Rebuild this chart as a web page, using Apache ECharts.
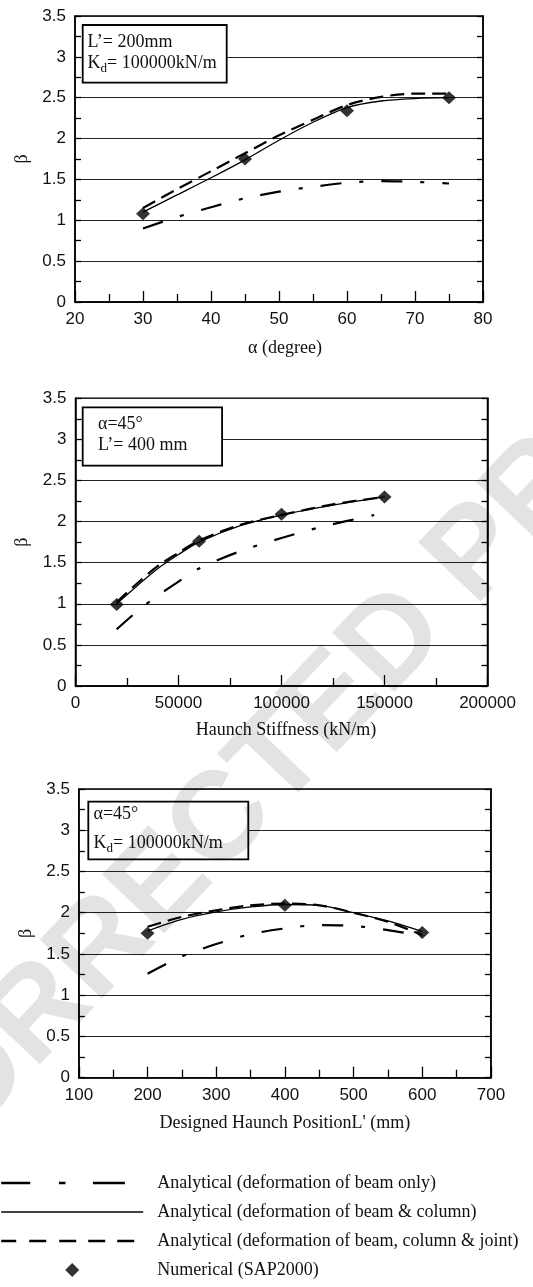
<!DOCTYPE html>
<html>
<head>
<meta charset="utf-8">
<script src="https://cdn.jsdelivr.net/npm/echarts@6/dist/echarts.min.js"></script>
<style>
  html, body { margin: 0; padding: 0; background: #fff; }
  #chart { width: 533px; height: 1287px; }
</style>
</head>
<body>
<div id="chart"></div>
<script>
// ---- Series names (shared by all three panels and the legend) ----
const nameBeamOnly  = 'Analytical (deformation of beam only)';
const nameBeamCol   = 'Analytical (deformation of beam & column)';
const nameBeamColJt = 'Analytical (deformation of beam, column & joint)';
const nameNumerical = 'Numerical (SAP2000)';

// ---- Panel 1: beta vs haunch angle alpha (degree) ----
const alphaBeamOnly  = [[30,0.90],[35,1.04],[40,1.16],[45,1.27],[50,1.35],[55,1.41],[60,1.46],[65,1.48],[70,1.47],[75,1.45]];
const alphaBeamCol   = [[30,1.10],[35,1.31],[40,1.52],[45,1.74],[50,1.98],[55,2.20],[60,2.38],[65,2.46],[70,2.49],[75,2.50]];
const alphaBeamColJt = [[30,1.15],[35,1.38],[40,1.60],[45,1.82],[50,2.04],[55,2.23],[60,2.41],[65,2.51],[70,2.55],[75,2.55]];
const alphaNumerical = [[30,1.08],[45,1.75],[60,2.34],[75,2.50]];
const alphaTicks     = { min: 20, max: 80, interval: 10 };

// ---- Panel 2: beta vs haunch stiffness (kN/m) ----
const stiffBeamOnly  = [[20000,0.69],[30000,0.91],[40000,1.10],[50000,1.27],[60000,1.43],[80000,1.64],[100000,1.80],[120000,1.94],[145000,2.08]];
const stiffBeamCol   = [[20000,1.00],[30000,1.22],[40000,1.43],[50000,1.60],[60000,1.75],[80000,1.95],[100000,2.08],[125000,2.20],[150000,2.30]];
const stiffBeamColJt = [[20000,1.02],[30000,1.25],[40000,1.46],[50000,1.62],[60000,1.77],[80000,1.96],[100000,2.08],[125000,2.21],[150000,2.30]];
const stiffNumerical = [[20000,0.99],[60000,1.76],[100000,2.09],[150000,2.30]];
const stiffTicks     = { min: 0, max: 200000, interval: 50000 };

// ---- Panel 3: beta vs designed haunch position L' (mm) ----
const posBeamOnly  = [[200,1.26],[250,1.47],[300,1.62],[350,1.74],[400,1.81],[450,1.85],[500,1.84],[550,1.79],[600,1.72]];
const posBeamCol   = [[200,1.78],[250,1.92],[300,2.01],[350,2.07],[400,2.10],[450,2.09],[500,2.00],[550,1.90],[600,1.77]];
const posBeamColJt = [[200,1.83],[250,1.95],[300,2.03],[350,2.09],[400,2.11],[450,2.09],[500,2.00],[550,1.89],[600,1.73]];
const posNumerical = [[200,1.75],[400,2.09],[600,1.76]];
const posTicks     = { min: 100, max: 700, interval: 100 };

// ---- Shared beta axis ----
const betaTicks = { min: 0, max: 3.5, interval: 0.5 };

const SERIF = '"Liberation Serif", "Times New Roman", serif';
const SANS  = '"Liberation Sans", Arial, sans-serif';
const INK   = '#000';

const dashDot = [21, 18, 4, 18];
const dashed  = [14, 7];

const panels = [
  { grid: { left: 75,   top: 16,    width: 408, height: 286   }, x: alphaTicks, xName: 'α (degree)',                     nameShift: 12, nameGap: 37,
    data: [alphaBeamOnly, alphaBeamCol, alphaBeamColJt, alphaNumerical] },
  { grid: { left: 75.5, top: 398.3, width: 412, height: 287.7 }, x: stiffTicks, xName: 'Haunch Stiffness (kN/m)',        nameShift: 9,  nameGap: 35,
    data: [stiffBeamOnly, stiffBeamCol, stiffBeamColJt, stiffNumerical] },
  { grid: { left: 78.9, top: 789,   width: 412, height: 288.7 }, x: posTicks,   xName: "Designed Haunch PositionL' (mm)", nameShift: 0,  nameGap: 37,
    data: [posBeamOnly, posBeamCol, posBeamColJt, posNumerical] }
];

const plainNumber = v => String(v);

const grid = [], xAxis = [], yAxis = [], series = [];

panels.forEach((p, i) => {
  grid.push(Object.assign({ show: true, borderColor: INK, borderWidth: 1.5, backgroundColor: 'transparent' }, p.grid));

  xAxis.push({
    type: 'value', gridIndex: i,
    min: p.x.min, max: p.x.max, interval: p.x.interval,
    axisLine: { show: true, lineStyle: { color: INK, width: 1.5 } },
    axisTick: { show: true, inside: true, length: 11, lineStyle: { color: INK, width: 1.3 } },
    minorTick: { show: true, splitNumber: 2, length: 8, lineStyle: { color: INK, width: 1.3 } },
    splitLine: { show: false },
    axisLabel: { margin: 9, fontFamily: SANS, fontSize: 17, color: '#111', formatter: plainNumber },
    name: p.xName, nameLocation: 'middle', nameGap: p.nameGap,
    nameTextStyle: { fontFamily: SERIF, fontSize: 18, color: '#111', padding: [0, 0, 0, p.nameShift] }
  });

  const yBase = {
    type: 'value', gridIndex: i,
    min: betaTicks.min, max: betaTicks.max, interval: betaTicks.interval,
    axisLine: { show: true, lineStyle: { color: INK, width: 1.5 } },
    axisTick: { show: true, inside: true, length: 6, lineStyle: { color: INK, width: 1.3 } },
    minorTick: { show: true, splitNumber: 2, length: 6, lineStyle: { color: INK, width: 1.3 } }
  };
  yAxis.push(Object.assign({}, yBase, {
    position: 'left',
    splitLine: { show: true, lineStyle: { color: '#222', width: 1 } },
    axisLabel: { margin: 9, fontFamily: SANS, fontSize: 17, color: '#111', formatter: plainNumber },
    name: 'β', nameLocation: 'middle', nameGap: 44,
    nameTextStyle: { fontFamily: SERIF, fontSize: 18, color: '#111' }
  }));
  yAxis.push(Object.assign({}, yBase, {
    position: 'right',
    splitLine: { show: false },
    axisLabel: { show: false }
  }));

  const yIdx = i * 2;
  const lineCommon = { type: 'line', xAxisIndex: i, yAxisIndex: yIdx, symbol: 'none', smooth: 0.3,
                       itemStyle: { color: INK }, silent: true, z: 3 };
  series.push(Object.assign({}, lineCommon, { name: nameBeamOnly,  data: p.data[0], lineStyle: { color: INK, width: 2.2, type: dashDot } }));
  series.push(Object.assign({}, lineCommon, { name: nameBeamCol,   data: p.data[1], lineStyle: { color: INK, width: 1.3, type: 'solid' } }));
  series.push(Object.assign({}, lineCommon, { name: nameBeamColJt, data: p.data[2], lineStyle: { color: INK, width: 2.2, type: dashed } }));
  series.push({ type: 'scatter', name: nameNumerical, xAxisIndex: i, yAxisIndex: yIdx,
                data: p.data[3], symbol: 'diamond', symbolSize: [14, 13],
                itemStyle: { color: INK }, silent: true, z: 4 });
});

// Parameter boxes in the upper-left corner of each panel
function paramBox(x, y, w, h, lines) {
  const els = [{ type: 'rect', z: 100, shape: { x: x, y: y, width: w, height: h },
                 style: { fill: '#fff', stroke: INK, lineWidth: 1.8 } }];
  lines.forEach(l => {
    els.push({ type: 'text', z: 101, x: l.x, y: l.y,
      style: { text: l.text, font: '18px ' + SERIF, fill: '#111', align: 'left', verticalAlign: 'middle',
               lineHeight: 24,
               rich: { d: { fontFamily: SERIF, fontSize: 13, lineHeight: 13, verticalAlign: 'bottom', fill: '#111' } } } });
  });
  return els;
}

const graphics = [].concat(
  paramBox(82.7, 25, 144, 57.7, [
    { x: 87.5, y: 42, text: 'L’= 200mm' },
    { x: 87.5, y: 63, text: 'K{d|d}= 100000kN/m' }
  ]),
  paramBox(82.7, 407.3, 139.4, 58.4, [
    { x: 98, y: 424, text: 'α=45°' },
    { x: 98, y: 445, text: 'L’= 400 mm' }
  ]),
  paramBox(88.3, 801.7, 160, 57.6, [
    { x: 93.5, y: 814, text: 'α=45°' },
    { x: 93.5, y: 843, text: 'K{d|d}= 100000kN/m' }
  ]),
  [{
    // proof stamp laid diagonally over the page
    type: 'text', z: 200, silent: true, x: 318, y: 722, rotation: 0.81,
    style: { text: 'CORRECTED PROOF', font: 'bold 125px ' + SANS, fill: 'rgba(0,0,0,0.11)',
             align: 'center', verticalAlign: 'middle' }
  }]
);

const hideDot = { opacity: 0 };

const chart = echarts.init(document.getElementById('chart'), null, { renderer: 'canvas' });
chart.setOption({
  animation: false,
  backgroundColor: '#fff',
  grid: grid, xAxis: xAxis, yAxis: yAxis, series: series,
  legend: {
    orient: 'vertical', left: 0, top: 1172.5, padding: 0,
    itemWidth: 142, itemHeight: 14, itemGap: 8,
    selectedMode: false, symbolKeepAspect: true,
    textStyle: { fontFamily: SERIF, fontSize: 18, color: '#111', lineHeight: 21, padding: [0, 0, 0, 9] },
    data: [
      { name: nameBeamOnly,  itemStyle: hideDot, lineStyle: { type: [29, 28.7, 6.6, 27.4, 32, 100], width: 2.4 } },
      { name: nameBeamCol,   itemStyle: hideDot, lineStyle: { type: 'solid', width: 1.6 } },
      { name: nameBeamColJt, itemStyle: hideDot, lineStyle: { type: [15, 13, 17, 13, 17, 12, 17, 12, 17, 30], width: 2.4 } },
      { name: nameNumerical, icon: 'path://M7,0L14,7L7,14L0,7Z' }
    ]
  },
  graphic: { elements: graphics }
});
</script>
</body>
</html>
